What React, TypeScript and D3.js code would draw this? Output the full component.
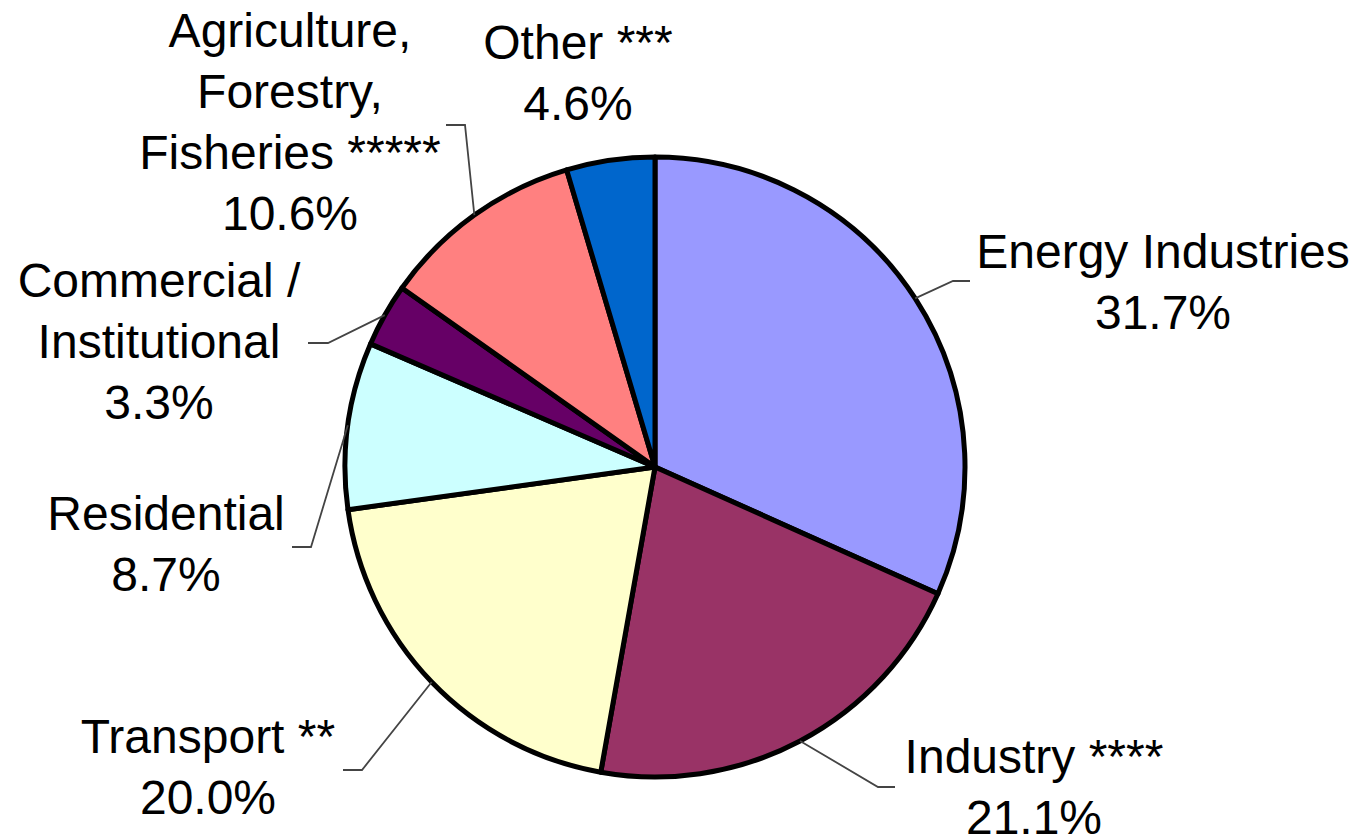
import React from "react";
import * as d3 from "d3";

// ---- data ----
const categories = [
  "Energy Industries",
  "Industry",
  "Transport",
  "Residential",
  "Commercial / Institutional",
  "Agriculture, Forestry, Fisheries",
  "Other",
];
const values = [31.7, 21.1, 20.0, 8.7, 3.3, 10.6, 4.6];
const labelTexts = [
  ["Energy Industries"],
  ["Industry ****"],
  ["Transport **"],
  ["Residential"],
  ["Commercial /", "Institutional"],
  ["Agriculture,", "Forestry,", "Fisheries *****"],
  ["Other ***"],
];
const colors = ["#9999FF", "#993366", "#FFFFCC", "#CCFFFF", "#660066", "#FF8080", "#0066CC"];

// ---- layout ----
const W = 1363;
const H = 837;
const CX = 655;
const CY = 467;
const R = 310;
const FONT = 48;
const LINE_H = 61;
// label block: center x, first baseline y
const labelPos: [number, number][] = [
  [1163, 268],
  [1034, 773],
  [208, 753],
  [166, 530],
  [159, 297],
  [290, 47],
  [578, 59],
];
// leader line: bend point and end point (null = no leader)
const leaderPts: ([number, number][] | null)[] = [
  [[953, 281], [970, 281]],
  [[878, 787], [895, 787]],
  [[362, 770], [343, 770]],
  [[311, 547], [292, 547]],
  [[328, 343], [308, 343]],
  [[465, 125], [446, 125]],
  null,
];

export default function App() {
  const pie = d3
    .pie<number>()
    .sort(null)
    .value((d) => d)
    .startAngle(0)
    .endAngle(2 * Math.PI);
  const arcs = pie(values);
  const arc = d3.arc<d3.PieArcDatum<number>>().innerRadius(0).outerRadius(R);

  return (
    <svg
      width={W}
      height={H}
      style={{ position: "absolute", left: 0, top: 0, background: "#fff" }}
      fontFamily="'Liberation Sans', Arial, sans-serif"
    >
      <g transform={`translate(${CX},${CY})`}>
        {arcs.map((a, i) => (
          <path
            key={categories[i]}
            d={arc(a) || ""}
            fill={colors[i]}
            stroke="#000"
            strokeWidth={5}
            strokeLinejoin="round"
          />
        ))}
      </g>
      {arcs.map((a, i) => {
        const pts = leaderPts[i];
        if (!pts) return null;
        const mid = (a.startAngle + a.endAngle) / 2;
        const sx = CX + R * Math.sin(mid);
        const sy = CY - R * Math.cos(mid);
        const line = d3.line()([[sx, sy], ...pts]);
        return (
          <path key={"l" + i} d={line || ""} fill="none" stroke="#444" strokeWidth={1.8} />
        );
      })}
      {arcs.map((a, i) => {
        const [x, y] = labelPos[i];
        const lines = [...labelTexts[i], `${values[i].toFixed(1)}%`];
        return (
          <text key={"t" + i} x={x} y={y} textAnchor="middle" fontSize={FONT} fill="#000">
            {lines.map((t, j) => (
              <tspan key={j} x={x} y={y + j * LINE_H}>
                {t}
              </tspan>
            ))}
          </text>
        );
      })}
    </svg>
  );
}
